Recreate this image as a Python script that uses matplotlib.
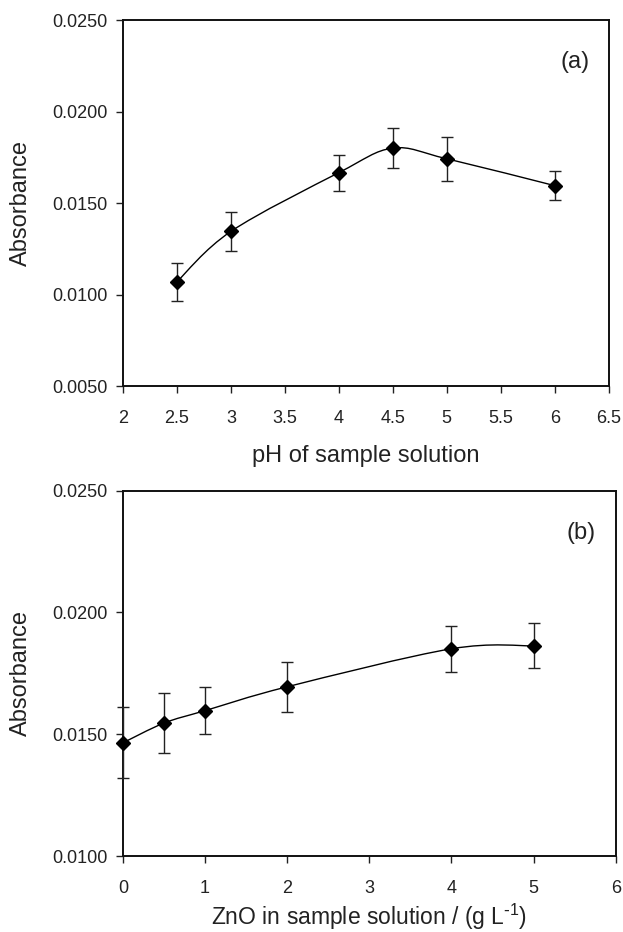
import matplotlib
matplotlib.use('Agg')
import matplotlib.pyplot as plt
import numpy as np
from matplotlib.path import Path
from matplotlib.patches import PathPatch

plt.rcParams['font.family'] = ['Liberation Sans', 'DejaVu Sans']
plt.rcParams['mathtext.default'] = 'regular'

# (a) pH of sample solution
ph = [2.5, 3, 4, 4.5, 5, 6]
abs_ph = [0.0107, 0.01345, 0.01666, 0.0180, 0.01742, 0.01595]
err_ph = [0.00103, 0.00108, 0.00099, 0.00108, 0.00121, 0.00078]

# (b) ZnO in sample solution
zno = [0, 0.5, 1, 2, 4, 5]
abs_zno = [0.01465, 0.01546, 0.01597, 0.01695, 0.01851, 0.01863]
err_zno = [0.00145, 0.00124, 0.00097, 0.00102, 0.00094, 0.00093]


def smooth_path(x, y, t=1/6):
    # Bezier curve through the points, spreadsheet-style smoothing
    x = np.asarray(x, float)
    y = np.asarray(y, float)
    n = len(x)
    verts = [(x[0], y[0])]
    codes = [Path.MOVETO]
    for i in range(n - 1):
        p0 = np.array([x[max(i - 1, 0)], y[max(i - 1, 0)]])
        p1 = np.array([x[i], y[i]])
        p2 = np.array([x[i + 1], y[i + 1]])
        p3 = np.array([x[min(i + 2, n - 1)], y[min(i + 2, n - 1)]])
        c1 = p1 + (p2 - p0) * t
        c2 = p2 - (p3 - p1) * t
        verts += [tuple(c1), tuple(c2), tuple(p2)]
        codes += [Path.CURVE4] * 3
    return Path(verts, codes)


def draw_panel(ax, x, y, err, xlim, xticks, ylim, yticks, xlabel, tag,
               xlab_y, ylab_x, xlab_size=17):
    ax.add_patch(PathPatch(smooth_path(x, y), fill=False, color='black', lw=1.0))
    ax.errorbar(x, y, yerr=err, fmt='D', color='black', ms=6.8,
                ecolor='#222222', elinewidth=1.0, capsize=4.2, capthick=1.0,
                clip_on=False, zorder=3)
    ax.set_xlim(*xlim)
    ax.set_ylim(*ylim)
    ax.set_xticks(xticks)
    ax.set_xticklabels([f'{v:g}' for v in xticks])
    ax.set_yticks(yticks)
    ax.set_yticklabels([f'{v:.4f}' for v in yticks])
    ax.tick_params(direction='out', length=5, width=1.0, labelsize=13,
                   colors='#222222', pad=6)
    ax.tick_params(axis='x', pad=12)
    for s in ax.spines.values():
        s.set_linewidth(1.4)
        s.set_color('#111111')
    ax.set_xlabel(xlabel, fontsize=xlab_size, color='#222222')
    ax.set_ylabel('Absorbance', fontsize=17, color='#222222')
    ax.xaxis.set_label_coords(0.5, xlab_y)
    ax.yaxis.set_label_coords(ylab_x, 0.5)
    ax.text(0.93, 0.885, tag, transform=ax.transAxes, fontsize=17,
            ha='center', va='center', color='#222222')


fig = plt.figure(figsize=(6.23, 9.32), dpi=100)
ax1 = fig.add_axes([0.1974, 0.5858, 0.7796, 0.3927])
ax2 = fig.add_axes([0.1974, 0.0815, 0.7909, 0.392])

draw_panel(ax1, ph, abs_ph, err_ph, (2, 6.5), np.arange(2, 6.51, 0.5),
           (0.005, 0.025), [0.005, 0.010, 0.015, 0.020, 0.025],
           'pH of sample solution', '(a)', -0.161, -0.188)
draw_panel(ax2, zno, abs_zno, err_zno, (0, 6), np.arange(0, 7, 1),
           (0.010, 0.025), [0.010, 0.015, 0.020, 0.025],
           r'ZnO in sample solution / (g L$^{\text{-}1}$)', '(b)', -0.126, -0.185,
           xlab_size=16.5)

fig.savefig('out.png', dpi=100)
